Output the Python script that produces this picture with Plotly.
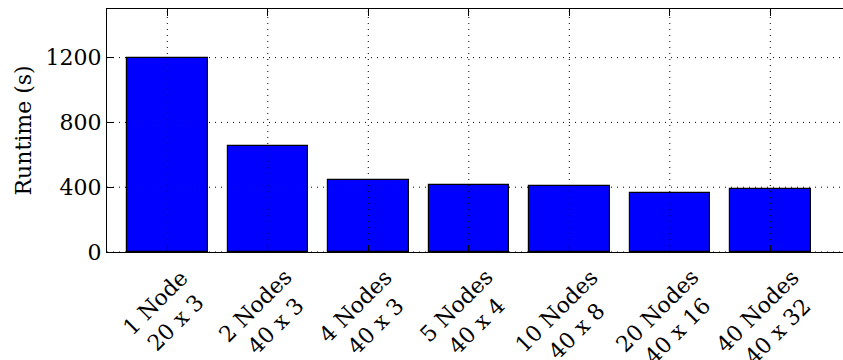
import plotly.graph_objects as go

categories = ["1 Node<br>20 x 3", "2 Nodes<br>40 x 3", "4 Nodes<br>40 x 3",
              "5 Nodes<br>40 x 4", "10 Nodes<br>40 x 8", "20 Nodes<br>40 x 16",
              "40 Nodes<br>40 x 32"]
runtimes = [1200, 655, 446, 415, 405, 365, 392]
yticks = [0, 400, 800, 1200]
ytick_labels = ["0", "400", "800", "1200"]

FONT = "DejaVu Serif"
FS = 22
idx = list(range(len(categories)))

W, H = 843, 360
ml, mt, mb = 107, 9, 108
pw = W - ml

fig = go.Figure()
fig.add_trace(go.Bar(
    x=idx, y=runtimes, width=0.8,
    marker=dict(color="#0000ff", line=dict(color="black", width=1.2)),
    showlegend=False, hoverinfo="y",
))

shapes = []
for yt in yticks:
    shapes.append(dict(type="line", xref="x domain", yref="y", x0=0, x1=1, y0=yt, y1=yt,
                       line=dict(color="black", width=1, dash="1px,5px"), layer="above"))
for i in idx:
    shapes.append(dict(type="line", xref="x", yref="y domain", x0=i, x1=i, y0=0, y1=1,
                       line=dict(color="black", width=1, dash="1px,5px"), layer="above"))

annotations = []
for i, lab in zip(idx, categories):
    annotations.append(dict(x=i, xref="x", y=0, yref="paper", yshift=-10, xshift=-2,
                            text=lab, showarrow=False, textangle=-45,
                            xanchor="center", yanchor="top", align="center",
                            font=dict(family=FONT, size=FS, color="black")))
annotations.append(dict(x=(23 - ml) / pw, xref="paper", y=0.5, yref="paper", text="Runtime (s)",
                        showarrow=False, textangle=-90, xanchor="center", yanchor="middle",
                        font=dict(family=FONT, size=FS, color="black")))

fig.update_layout(
    width=W, height=H,
    margin=dict(l=ml, r=0, t=mt, b=mb),
    plot_bgcolor="white", paper_bgcolor="white",
    font=dict(family=FONT, size=FS, color="black"),
    shapes=shapes, annotations=annotations,
    bargap=0,
)
fig.update_xaxes(
    range=[-0.6, -0.6 + pw / 100.5],
    tickvals=idx, showticklabels=False,
    ticks="inside", ticklen=7, tickcolor="black",
    showline=True, linecolor="black", linewidth=1.2, mirror="ticks",
    showgrid=False, zeroline=False,
)
fig.update_yaxes(
    range=[0, 1500],
    tickvals=yticks, ticktext=ytick_labels,
    ticks="inside", ticklen=7, tickcolor="black",
    showline=True, linecolor="black", linewidth=1.2, mirror=False,
    showgrid=False, zeroline=False,
    tickfont=dict(family=FONT, size=FS, color="black"),
)

fig.write_html("out.html", config={"displayModeBar": False},
               post_script="document.body.style.margin='0';")
